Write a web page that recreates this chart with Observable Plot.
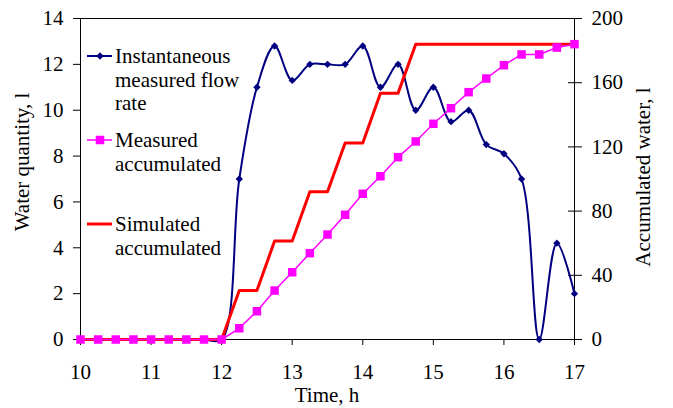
<!DOCTYPE html>
<html><head><meta charset="utf-8">
<script src="https://cdn.jsdelivr.net/npm/d3@7"></script>
<script src="https://cdn.jsdelivr.net/npm/@observablehq/plot@0.6"></script>
<style>body{margin:0;background:#fff} svg text{font-family:"Liberation Serif","DejaVu Serif",serif !important;}</style>
</head><body><div id="chart"></div>
<script>
const times = [10,10.25,10.5,10.75,11,11.25,11.5,11.75,12,12.25,12.5,12.75,13,13.25,13.5,13.75,14,14.25,14.5,14.75,15,15.25,15.5,15.75,16,16.25,16.5,16.75,17];
const flowRate = [0,0,0,0,0,0,0,0,0,7,11,12.8,11.3,12,12,12,12.8,11,12,10,11,9.5,10,8.5,8.1,7,0,4.2,2];
const measuredAccum = [0,0,0,0,0,0,0,0,0,7,17.6,30.5,41.9,53.8,65.4,77.7,90.8,101.7,113.6,123.4,134.4,144.1,154.1,162.6,170.9,177.6,177.6,181.9,184];
const simulatedAccum = [0,0,0,0,0,0,0,0,0,30.5,30.5,61.3,61.3,92,92,122.5,122.5,153.5,153.5,184,184,184,184,184,184,184,184,184,184];
const xTicks = [10,11,12,13,14,15,16,17];
const leftTicks = [0,2,4,6,8,10,12,14];
const rightTicks = [0,40,80,120,160,200];
const leftMax = 14, rightMax = 200;
const seriesNames = ["Instantaneous measured flow rate","Measured accumulated","Simulated accumulated"];
const legendLines = [["Instantaneous","measured flow","rate"],["Measured","accumulated"],["Simulated","accumulated"]];
const xTitle = "Time, h", yLeftTitle = "Water quantity, l", yRightTitle = "Accumulated water, l";

const k = leftMax / rightMax;
const rows = times.map((t, i) => ({t, flow: flowRate[i], meas: measuredAccum[i] * k, sim: simulatedAccum[i] * k}));
const font = "Liberation Serif, DejaVu Serif, serif";
const navy = "#000080", magenta = "#ff00ff", red = "#ff0000";

const plot = Plot.plot({
  width: 673, height: 408,
  marginLeft: 80, marginRight: 99, marginTop: 18, marginBottom: 69,
  style: {fontFamily: font, fontSize: "21px", color: "#000", background: "#fff", overflow: "visible"},
  x: {domain: [10, 17], label: null},
  y: {domain: [0, leftMax], label: null},
  marks: [
    Plot.frame({stroke: "#000"}),
    Plot.axisX(xTicks, {tickSize: 6, tickPadding: 19, label: null}),
    Plot.axisY(leftTicks, {anchor: "left", tickSize: 7, tickPadding: 10, label: null}),
    Plot.axisY(rightTicks.map(v => v * k), {anchor: "right", tickSize: 14, dx: -7, tickPadding: 10, tickFormat: v => String(Math.round(v / k)), label: null}),
    Plot.line(rows, {x: "t", y: "flow", stroke: navy, strokeWidth: 2, curve: "catmull-rom"}),
    Plot.dot(rows, {x: "t", y: "flow", symbol: "diamond2", r: 3.3, fill: navy, stroke: "none"}),
    Plot.line(rows, {x: "t", y: "sim", stroke: red, strokeWidth: 3}),
    Plot.line(rows, {x: "t", y: "meas", stroke: magenta, strokeWidth: 1.5}),
    Plot.dot(rows, {x: "t", y: "meas", symbol: "square", r: 4.8, fill: magenta, stroke: "none"})
  ]
});
document.getElementById("chart").appendChild(plot);

const svg = d3.select(plot);
const txt = (x, y, s, rot, anchor) => svg.append("text")
  .attr("transform", `translate(${x},${y})` + (rot ? " rotate(-90)" : ""))
  .attr("text-anchor", anchor || "middle")
  .attr("font-size", 21).attr("fill", "#000").text(s);
txt(327, 402, xTitle);
txt(29, 162, yLeftTitle, true);
txt(650, 177, yRightTitle, true);

// legend
const legendColors = [navy, magenta, red];
const legendWidths = [2, 1.5, 3];
const legendSym = [d3.symbol(d3.symbolDiamond2, Math.PI * 3.3 * 3.3), d3.symbol(d3.symbolSquare, Math.PI * 4.8 * 4.8), null];
const g = svg.append("g");
legendLines.forEach((lines, i) => {
  const cy = 56 + i * 84;
  g.append("line").attr("x1", 87).attr("x2", 112).attr("y1", cy).attr("y2", cy)
    .attr("stroke", legendColors[i]).attr("stroke-width", legendWidths[i]);
  if (legendSym[i]) g.append("path").attr("d", legendSym[i]()).attr("transform", `translate(100,${cy})`).attr("fill", legendColors[i]);
  const t = g.append("text").attr("text-anchor", "start").attr("font-size", 21).attr("fill", "#000");
  lines.forEach((s, j) => t.append("tspan").attr("x", 115).attr("y", cy + 7 + j * 23.5).text(s));
});
</script></body></html>
